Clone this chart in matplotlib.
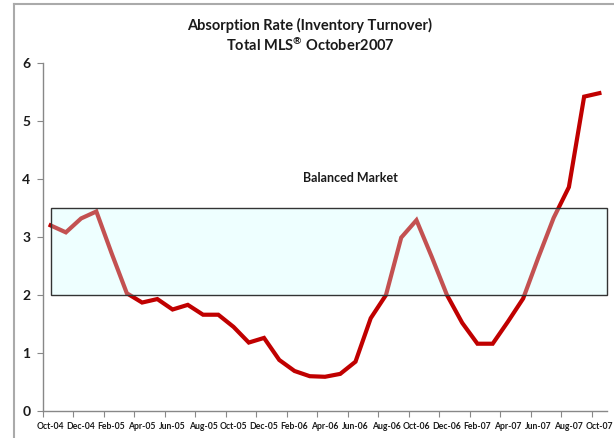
import matplotlib
matplotlib.use("Agg")
import matplotlib.pyplot as plt
from matplotlib.patches import Rectangle
from matplotlib.lines import Line2D

months = ["Oct-04", "Nov-04", "Dec-04", "Jan-05", "Feb-05", "Mar-05", "Apr-05", "May-05",
          "Jun-05", "Jul-05", "Aug-05", "Sep-05", "Oct-05", "Nov-05", "Dec-05", "Jan-06",
          "Feb-06", "Mar-06", "Apr-06", "May-06", "Jun-06", "Jul-06", "Aug-06", "Sep-06",
          "Oct-06", "Nov-06", "Dec-06", "Jan-07", "Feb-07", "Mar-07", "Apr-07", "May-07",
          "Jun-07", "Jul-07", "Aug-07", "Sep-07", "Oct-07"]
absorption = [3.20, 3.08, 3.32, 3.44, 2.72, 2.03, 1.87, 1.93, 1.75, 1.83, 1.66, 1.66,
              1.45, 1.18, 1.26, 0.88, 0.69, 0.60, 0.59, 0.64, 0.85, 1.60, 2.00, 2.99,
              3.29, 2.66, 2.00, 1.52, 1.16, 1.16, 1.54, 1.94, 2.65, 3.33, 3.86, 5.42, 5.48]
balanced_low, balanced_high = 2.0, 3.5
y_ticks = [0, 1, 2, 3, 4, 5, 6]

plt.rcParams['font.family'] = ['Lato', 'DejaVu Sans']
plt.rcParams['mathtext.fontset'] = 'custom'
plt.rcParams['mathtext.rm'] = 'Lato:bold'

fig = plt.figure(figsize=(6.14, 4.38), dpi=100)
ax = fig.add_axes([43/614, 1 - 411/438, 564/614, 348/438])

n = len(months)
xs = list(range(n))
ax.plot(xs, absorption, color='#C00000', lw=3.0, solid_joinstyle='miter', zorder=2)

box = Rectangle((0, balanced_low), n - 0.5, balanced_high - balanced_low,
                facecolor='#CCFFFF', alpha=0.32, edgecolor='none', zorder=3)
ax.add_patch(box)
edge = Rectangle((0, balanced_low), n - 0.5, balanced_high - balanced_low,
                 facecolor='none', edgecolor='#333333', lw=1.0, zorder=4, clip_on=False)
ax.add_patch(edge)
ax.text(19.7, 4.02, "Balanced Market", ha='center', va='center', fontsize=9,
        fontweight='bold', color='#1a1a1a', zorder=5)

ax.set_xlim(-0.5, n - 0.5)
ax.set_ylim(0, 6)

ax.set_yticks(y_ticks)
ax.set_yticklabels([str(v) for v in y_ticks], fontsize=10, fontweight='bold', color='#1a1a1a')
ax.tick_params(axis='y', direction='out', length=4, color='#888888', pad=5)

ax.set_xticks([k - 0.5 for k in range(0, n, 2)])
ax.set_xticklabels([])
ax.set_xticks(list(range(0, n, 2)), minor=True)
ax.set_xticklabels(months[::2], minor=True, fontsize=6.2, fontweight='bold', color='#1a1a1a')
ax.tick_params(axis='x', which='major', direction='out', length=4, color='#888888')
ax.tick_params(axis='x', which='minor', length=0, pad=8)

for s in ['top', 'right']:
    ax.spines[s].set_visible(False)
for s in ['left', 'bottom']:
    ax.spines[s].set_color('#888888')
    ax.spines[s].set_linewidth(1.0)

fig.text(0.505, 1 - 25/438, "Absorption Rate (Inventory Turnover)", ha='center', va='center',
         fontsize=10.5, fontweight='bold', color='#1a1a1a')
fig.text(0.505, 1 - 45/438, "Total MLS$^{\u00ae}$ October2007", ha='center', va='center',
         fontsize=10.5, fontweight='bold', color='#1a1a1a')

# chart frame
fig.add_artist(Line2D([14/614, 14/614], [0, 1 - 4/438], transform=fig.transFigure,
                      color='#AAAAAA', lw=1.5))
fig.add_artist(Line2D([14/614, 1], [1 - 4/438, 1 - 4/438], transform=fig.transFigure,
                      color='#AAAAAA', lw=1.5))

fig.savefig("out.png", dpi=100)
